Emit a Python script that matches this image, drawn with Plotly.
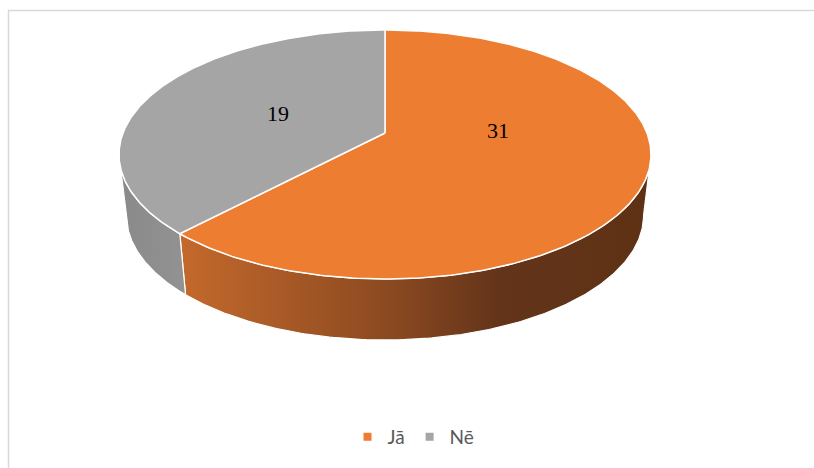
import numpy as np
import plotly.graph_objects as go

# Answers (Yes / No) and their counts
categories = ["Jā", "Nē"]
values = [31, 19]
top_colors = ["#ED7D31", "#A5A5A5"]
wall_gradients = [
    [[0.0, "#C4692C"], [0.45, "#8A4920"], [0.68, "#63341A"], [1.0, "#5E3114"]],
    [[0.0, "#8A8A8A"], [1.0, "#929292"]],
]
label_dy = [-23, 0]  # vertical nudge of each value label, px

# Perspective disc geometry (pixel space)
W, H = 814, 468
CX, CY = 385.0, 133.0      # projected centre of the top face
RX, RY = 262.0, 120.8      # horizontal / depth scaling
PERSP = 0.1727             # perspective strength (near edge looks larger)
DEPTH = 61.0               # thickness of the slab
BOT_SCALE = 0.972          # bottom rim recedes slightly
LABEL_R = 0.45
# angle where the rim silhouette touches the ellipse
EDGE = float(np.degrees(np.arccos(-PERSP)))


def top_point(theta_deg, r=1.0):
    t = np.radians(theta_deg)
    X = r * np.sin(t)
    Z = -r * np.cos(t)
    w = 1 - PERSP * Z
    return CX + RX * X / w, CY + RY * Z / w


def bottom_point(theta_deg):
    x, y = top_point(theta_deg)
    return CX + BOT_SCALE * (x - CX), y + DEPTH


total = float(sum(values))
bounds = np.concatenate([[0.0], np.cumsum(values) / total * 360.0])

fig = go.Figure()

# Side walls: only the front part of the rim is visible
for i, name in enumerate(categories):
    a, b = max(bounds[i], EDGE), min(bounds[i + 1], 360.0 - EDGE)
    if b <= a:
        continue
    th = np.linspace(a, b, 200)
    xt, yt = top_point(th)
    xb, yb = bottom_point(th[::-1])
    xs = np.concatenate([xt, xb, xt[:1]])
    ys = np.concatenate([yt, yb, yt[:1]])
    fig.add_trace(go.Scatter(
        x=xs, y=ys, mode="lines", fill="toself",
        line=dict(color="white", width=1.2),
        fillgradient=dict(type="horizontal", colorscale=wall_gradients[i],
                          start=float(xs.min()), stop=float(xs.max())),
        hoverinfo="skip", showlegend=False,
    ))

# Top faces of the slices
for i, name in enumerate(categories):
    th = np.linspace(bounds[i], bounds[i + 1], 300)
    xa, ya = top_point(th)
    xs = np.concatenate([[CX], xa, [CX]])
    ys = np.concatenate([[CY], ya, [CY]])
    fig.add_trace(go.Scatter(
        x=xs, y=ys, mode="lines", fill="toself", fillcolor=top_colors[i],
        line=dict(color="white", width=1.5),
        hoverinfo="skip", showlegend=False,
    ))

# Value labels at the middle of each slice
for i, v in enumerate(values):
    mid = (bounds[i] + bounds[i + 1]) / 2
    lx, ly = top_point(mid, LABEL_R)
    fig.add_annotation(x=lx, y=ly + label_dy[i], text=str(v), showarrow=False,
                       font=dict(family="Liberation Serif", size=22, color="#000000"))

# Legend entries
for i, name in enumerate(categories):
    fig.add_trace(go.Scatter(
        x=[None], y=[None], mode="markers", name=name,
        marker=dict(symbol="square", size=8, color=top_colors[i]),
    ))

fig.add_shape(type="rect", xref="paper", yref="paper",
              x0=8.5 / W, y0=1 - 10.5 / H, x1=1.2, y1=-0.2,
              line=dict(color="#D9D9D9", width=1.5), fillcolor="rgba(0,0,0,0)")

fig.update_layout(
    width=W, height=H, autosize=False,
    margin=dict(l=0, r=0, t=0, b=0),
    paper_bgcolor="white", plot_bgcolor="white",
    xaxis=dict(range=[0, W], visible=False, fixedrange=True),
    yaxis=dict(range=[H, 0], visible=False, fixedrange=True),
    showlegend=True,
    legend=dict(orientation="h", x=0.508, xanchor="center",
                y=1 - 437 / H, yanchor="middle",
                font=dict(family="Lato", size=19, color="#595959"),
                bgcolor="rgba(0,0,0,0)", itemwidth=30),
)

fig.write_html("out.html")
